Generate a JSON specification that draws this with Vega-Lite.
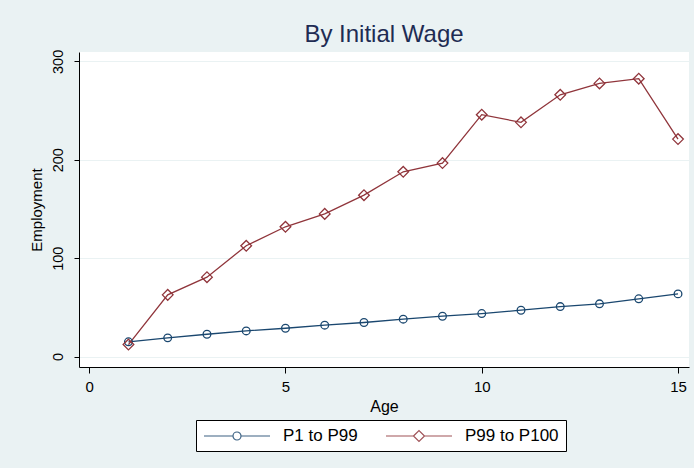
{
  "$schema": "https://vega.github.io/schema/vega-lite/v6.json",
  "autosize": "none",
  "width": 610,
  "height": 315,
  "padding": {"left": 79, "top": 52, "right": 5, "bottom": 101},
  "background": "#eaf2f3",
  "view": {"fill": "white", "stroke": null},
  "config": {
    "font": "Liberation Sans",
    "axis": {"domainColor": "#000000", "tickColor": "#000000", "labelColor": "#000000", "titleColor": "#000000", "titleFontWeight": "normal", "labelFont": "Liberation Sans", "titleFont": "Liberation Sans"}
  },
  "title": {
    "text": "By Initial Wage",
    "fontSize": 24,
    "fontWeight": "normal",
    "color": "#1e2c53",
    "anchor": "middle",
    "frame": "group",
    "baseline": "alphabetic",
    "offset": 8,
    "dy": 25
  },
  "data": {
    "values": [
      {"age": 1, "series": "P1 to P99", "employment": 15},
      {"age": 2, "series": "P1 to P99", "employment": 19},
      {"age": 3, "series": "P1 to P99", "employment": 22.7},
      {"age": 4, "series": "P1 to P99", "employment": 26.1},
      {"age": 5, "series": "P1 to P99", "employment": 28.8},
      {"age": 6, "series": "P1 to P99", "employment": 31.9},
      {"age": 7, "series": "P1 to P99", "employment": 34.6},
      {"age": 8, "series": "P1 to P99", "employment": 38},
      {"age": 9, "series": "P1 to P99", "employment": 41},
      {"age": 10, "series": "P1 to P99", "employment": 43.7},
      {"age": 11, "series": "P1 to P99", "employment": 47.1},
      {"age": 12, "series": "P1 to P99", "employment": 50.8},
      {"age": 13, "series": "P1 to P99", "employment": 53.6},
      {"age": 14, "series": "P1 to P99", "employment": 58.7},
      {"age": 15, "series": "P1 to P99", "employment": 63.7},
      {"age": 1, "series": "P99 to P100", "employment": 12.2},
      {"age": 2, "series": "P99 to P100", "employment": 62.7},
      {"age": 3, "series": "P99 to P100", "employment": 80.7},
      {"age": 4, "series": "P99 to P100", "employment": 112.6},
      {"age": 5, "series": "P99 to P100", "employment": 131.9},
      {"age": 6, "series": "P99 to P100", "employment": 145},
      {"age": 7, "series": "P99 to P100", "employment": 164},
      {"age": 8, "series": "P99 to P100", "employment": 187.8},
      {"age": 9, "series": "P99 to P100", "employment": 196.6},
      {"age": 10, "series": "P99 to P100", "employment": 245.8},
      {"age": 11, "series": "P99 to P100", "employment": 238},
      {"age": 12, "series": "P99 to P100", "employment": 266},
      {"age": 13, "series": "P99 to P100", "employment": 277.6},
      {"age": 14, "series": "P99 to P100", "employment": 282.4},
      {"age": 15, "series": "P99 to P100", "employment": 221}
    ]
  },
  "encoding": {
    "x": {
      "field": "age",
      "type": "quantitative",
      "title": "Age",
      "scale": {"domain": [-0.26, 15.28], "nice": false, "zero": false},
      "axis": {"values": [0, 5, 10, 15], "grid": false, "tickSize": 6, "labelFontSize": 15, "labelPadding": 6, "titleFontSize": 16, "titlePadding": 4, "labelFlush": false}
    },
    "y": {
      "field": "employment",
      "type": "quantitative",
      "title": "Employment",
      "scale": {"domain": [-10.6, 309.5], "nice": false, "zero": false},
      "axis": {"values": [0, 100, 200, 300], "grid": true, "gridColor": "#eaf2f3", "gridWidth": 1, "tickSize": 5, "labelAngle": -90, "labelAlign": "center", "labelBaseline": "bottom", "labelFontSize": 14.5, "labelPadding": 9, "titleFontSize": 15, "titlePadding": 6, "labelFlush": false}
    }
  },
  "layer": [
    {
      "mark": {"type": "line", "strokeWidth": 1.3},
      "encoding": {
        "color": {
          "field": "series",
          "type": "nominal",
          "scale": {"domain": ["P1 to P99", "P99 to P100"], "range": ["#1a476f", "#90353b"]},
          "legend": {
            "title": null,
            "orient": "none",
            "direction": "horizontal",
            "legendX": 117,
            "legendY": 368,
            "strokeColor": "#000000",
            "fillColor": "#ffffff",
            "padding": 7,
            "symbolSize": 256,
            "symbolStrokeWidth": 1.2,
            "symbolOpacity": 0.85,
            "labelFontSize": 17,
            "labelColor": "#000000",
            "labelOffset": 62,
            "columnPadding": 25,
            "labelLimit": 200,
            "encode": {
              "symbols": {
                "update": {
                  "shape": {"signal": "datum.value === 'P1 to P99' ? 'M-1,0L2.625,0M3.625,0L7.25,0M2.625,0A0.5,0.5 0 1,0 3.625,0A0.5,0.5 0 1,0 2.625,0' : 'M-1,0L2.4375,0M2.4375,0L3.125,-0.6875L3.8125,0L3.125,0.6875ZM3.8125,0L7.25,0'"},
                  "size": {"value": 256},
                  "fill": {"value": "transparent"},
                  "strokeWidth": {"value": 1.2}
                }
              }
            }
          }
        }
      }
    },
    {
      "mark": {"type": "point", "filled": false, "strokeWidth": 1.3, "opacity": 1},
      "encoding": {
        "stroke": {
          "condition": {"test": "datum.series === 'P1 to P99'", "value": "#1a476f"},
          "value": "#90353b"
        },
        "shape": {
          "condition": {"test": "datum.series === 'P1 to P99'", "value": "circle"},
          "value": "diamond"
        },
        "size": {
          "condition": {"test": "datum.series === 'P1 to P99'", "value": 59},
          "value": 114
        }
      }
    }
  ]
}
